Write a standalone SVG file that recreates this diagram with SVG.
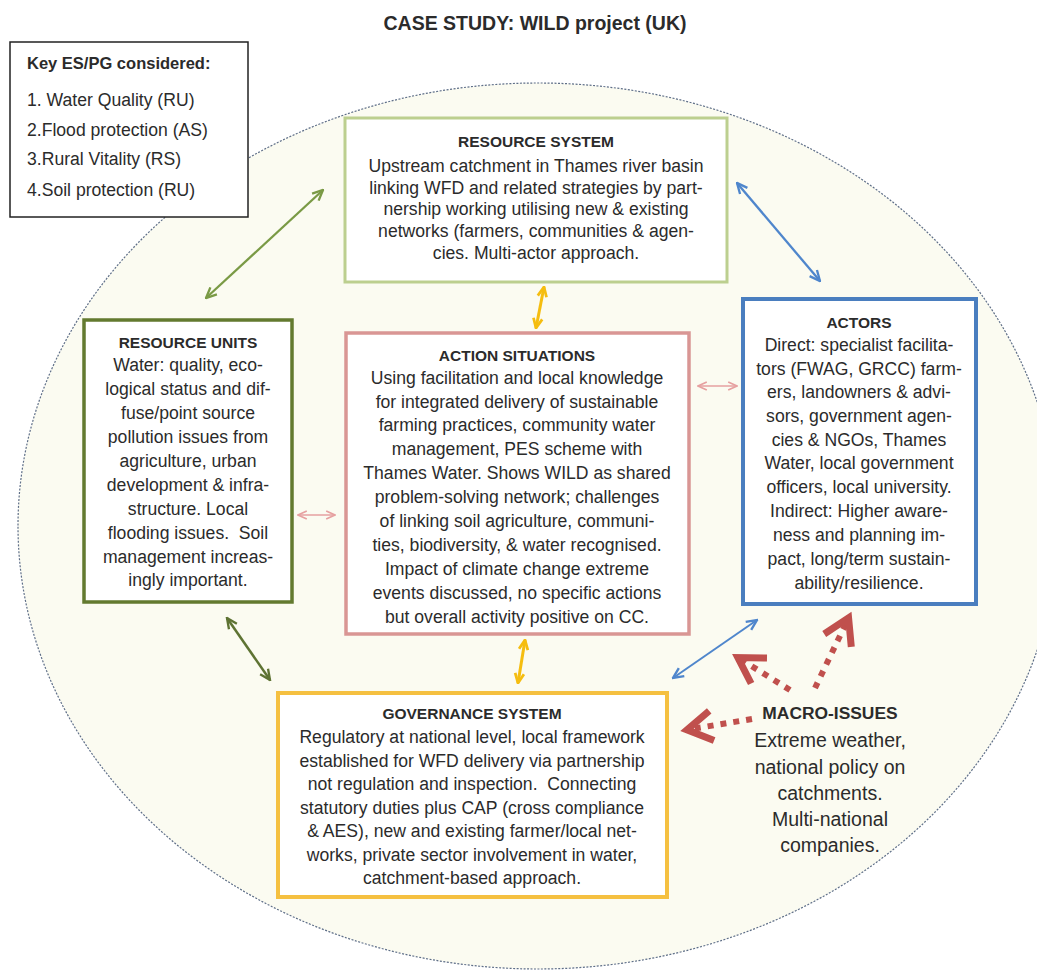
<svg xmlns="http://www.w3.org/2000/svg" width="1037" height="971" viewBox="0 0 1037 971">
<style>
text{font-family:"Liberation Sans",Arial,sans-serif;fill:#2b2b2b;text-anchor:middle}
.t{font-weight:bold;font-size:15.5px}
.b{font-size:17.6px}
.m{font-size:19.5px}
.box{fill:#ffffff}
.dot{fill:none;stroke:#c0504d;stroke-width:6;stroke-dasharray:6 7}
</style>
<defs>
<marker id="hg" viewBox="0 0 10 10" refX="9" refY="5" markerWidth="13" markerHeight="13" markerUnits="userSpaceOnUse" orient="auto-start-reverse"><path d="M1,1.3 L9,5 L1,8.7" fill="none" stroke="#7a9a45" stroke-width="1.8"/></marker>
<marker id="hd" viewBox="0 0 10 10" refX="9" refY="5" markerWidth="13" markerHeight="13" markerUnits="userSpaceOnUse" orient="auto-start-reverse"><path d="M1,1.3 L9,5 L1,8.7" fill="none" stroke="#5e7333" stroke-width="1.8"/></marker>
<marker id="hb" viewBox="0 0 10 10" refX="9" refY="5" markerWidth="13" markerHeight="13" markerUnits="userSpaceOnUse" orient="auto-start-reverse"><path d="M1,1.3 L9,5 L1,8.7" fill="none" stroke="#4f86cc" stroke-width="1.8"/></marker>
<marker id="hy" viewBox="0 0 10 10" refX="9" refY="5" markerWidth="12" markerHeight="12" markerUnits="userSpaceOnUse" orient="auto-start-reverse"><path d="M1,1.3 L9,5 L1,8.7" fill="none" stroke="#f5bd10" stroke-width="2.3"/></marker>
<marker id="hp" viewBox="0 0 10 10" refX="9" refY="5" markerWidth="11" markerHeight="11" markerUnits="userSpaceOnUse" orient="auto-start-reverse"><path d="M1,1.3 L9,5 L1,8.7" fill="none" stroke="#e6a0a0" stroke-width="1.5"/></marker>
<marker id="hr" viewBox="0 0 40 40" refX="33" refY="20" markerWidth="40" markerHeight="40" markerUnits="userSpaceOnUse" orient="auto"><path d="M7,5 L32,20 L7,35" fill="none" stroke="#c0504d" stroke-width="7" stroke-linejoin="miter"/></marker>
</defs>
<rect x="0" y="0" width="1037" height="971" fill="#ffffff"/>
<ellipse cx="538" cy="526" rx="520" ry="443" fill="#fbfbf1" stroke="#5f6f88" stroke-width="1.2" stroke-dasharray="2 1.5"/>
<text x="535" y="30" style="font-weight:bold;font-size:19.5px">CASE STUDY: WILD project (UK)</text>

<g id="key">
<rect x="10" y="42" width="238" height="175" class="box" stroke="#222" stroke-width="1.5"/>
<text x="27" y="69" style="text-anchor:start;font-weight:bold;font-size:16.5px">Key ES/PG considered:</text>
<text x="27" y="106" class="b" style="text-anchor:start">1. Water Quality (RU)</text>
<text x="27" y="136" class="b" style="text-anchor:start">2.Flood protection (AS)</text>
<text x="27" y="165" class="b" style="text-anchor:start">3.Rural Vitality (RS)</text>
<text x="27" y="196" class="b" style="text-anchor:start">4.Soil protection (RU)</text>
</g>

<g id="connectors">
<path d="M206,298 L323,190" stroke="#7a9a45" stroke-width="2.3" fill="none" marker-start="url(#hg)" marker-end="url(#hg)"/>
<path d="M737,183 L820,281" stroke="#4f86cc" stroke-width="2.3" fill="none" marker-start="url(#hb)" marker-end="url(#hb)"/>
<path d="M544,287 L536,328" stroke="#f5bd10" stroke-width="3" fill="none" marker-start="url(#hy)" marker-end="url(#hy)"/>
<path d="M525,640 L518,683" stroke="#f5bd10" stroke-width="3" fill="none" marker-start="url(#hy)" marker-end="url(#hy)"/>
<path d="M298,515 L335,515" stroke="#e6a0a0" stroke-width="1.5" fill="none" marker-start="url(#hp)" marker-end="url(#hp)"/>
<path d="M698,386 L737,386" stroke="#e6a0a0" stroke-width="1.5" fill="none" marker-start="url(#hp)" marker-end="url(#hp)"/>
<path d="M227,618 L270,680" stroke="#5e7333" stroke-width="2.5" fill="none" marker-start="url(#hd)" marker-end="url(#hd)"/>
<path d="M757,620 L673,678" stroke="#4f86cc" stroke-width="2" fill="none" marker-start="url(#hb)" marker-end="url(#hb)"/>
<path d="M752,719 L686,730" class="dot" marker-end="url(#hr)"/>
<path d="M790,690 L737,657" class="dot" marker-end="url(#hr)"/>
<path d="M815,688 L849,617" class="dot" marker-end="url(#hr)"/>
</g>

<g id="resource-system">
<rect x="345" y="118" width="382" height="164" class="box" stroke="#bccf8f" stroke-width="3"/>
<text x="536" y="147" class="t">RESOURCE SYSTEM</text>
<text x="536" y="172" class="b">Upstream catchment in Thames river basin</text>
<text x="536" y="194" class="b">linking WFD and related strategies by part-</text>
<text x="536" y="215" class="b">nership working utilising new &amp; existing</text>
<text x="536" y="237" class="b">networks (farmers, communities &amp; agen-</text>
<text x="536" y="259" class="b">cies. Multi-actor approach.</text>
</g>

<g id="resource-units">
<rect x="84" y="320" width="208" height="282" class="box" stroke="#637a2f" stroke-width="3.5"/>
<text x="188" y="348" class="t">RESOURCE UNITS</text>
<text x="188" y="371" class="b">Water: quality, eco-</text>
<text x="188" y="395" class="b">logical status and dif-</text>
<text x="188" y="419" class="b">fuse/point source</text>
<text x="188" y="443" class="b">pollution issues from</text>
<text x="188" y="467" class="b">agriculture, urban</text>
<text x="188" y="491" class="b">development &amp; infra-</text>
<text x="188" y="515" class="b">structure. Local</text>
<text x="188" y="539" class="b" xml:space="preserve">flooding issues.  Soil</text>
<text x="188" y="563" class="b">management increas-</text>
<text x="188" y="586" class="b">ingly important.</text>
</g>

<g id="action-situations">
<rect x="346" y="333" width="343" height="301" class="box" stroke="#d99694" stroke-width="3.5"/>
<text x="517" y="361" class="t">ACTION SITUATIONS</text>
<text x="517" y="384" class="b">Using facilitation and local knowledge</text>
<text x="517" y="408" class="b">for integrated delivery of sustainable</text>
<text x="517" y="431" class="b">farming practices, community water</text>
<text x="517" y="455" class="b">management, PES scheme with</text>
<text x="517" y="479" class="b">Thames Water. Shows WILD as shared</text>
<text x="517" y="503" class="b">problem-solving network; challenges</text>
<text x="517" y="527" class="b">of linking soil agriculture, communi-</text>
<text x="517" y="551" class="b">ties, biodiversity, &amp; water recognised.</text>
<text x="517" y="575" class="b">Impact of climate change extreme</text>
<text x="517" y="599" class="b">events discussed, no specific actions</text>
<text x="517" y="623" class="b">but overall activity positive on CC.</text>
</g>

<g id="actors">
<rect x="743" y="299" width="233" height="305" class="box" stroke="#4a7ebf" stroke-width="4"/>
<text x="859" y="328" class="t">ACTORS</text>
<text x="859" y="351" class="b">Direct: specialist facilita-</text>
<text x="859" y="375" class="b">tors (FWAG, GRCC) farm-</text>
<text x="859" y="398" class="b">ers, landowners &amp; advi-</text>
<text x="859" y="422" class="b">sors, government agen-</text>
<text x="859" y="446" class="b">cies &amp; NGOs, Thames</text>
<text x="859" y="469" class="b">Water, local government</text>
<text x="859" y="493" class="b">officers, local university.</text>
<text x="859" y="517" class="b">Indirect: Higher aware-</text>
<text x="859" y="541" class="b">ness and planning im-</text>
<text x="859" y="565" class="b">pact, long/term sustain-</text>
<text x="859" y="589" class="b">ability/resilience.</text>
</g>

<g id="governance-system">
<rect x="278" y="693" width="389" height="204" class="box" stroke="#f5c040" stroke-width="4"/>
<text x="472" y="719" class="t">GOVERNANCE SYSTEM</text>
<text x="472" y="743" class="b">Regulatory at national level, local framework</text>
<text x="472" y="767" class="b">established for WFD delivery via partnership</text>
<text x="472" y="790" class="b" xml:space="preserve">not regulation and inspection.  Connecting</text>
<text x="472" y="814" class="b">statutory duties plus CAP (cross compliance</text>
<text x="472" y="837" class="b">&amp; AES), new and existing farmer/local net-</text>
<text x="472" y="861" class="b">works, private sector involvement in water,</text>
<text x="472" y="884" class="b">catchment-based approach.</text>
</g>

<g id="macro-issues">
<text x="830" y="719" style="font-weight:bold;font-size:17.4px">MACRO-ISSUES</text>
<text x="830" y="747" class="m">Extreme weather,</text>
<text x="830" y="774" class="m">national policy on</text>
<text x="830" y="800" class="m">catchments.</text>
<text x="830" y="826" class="m">Multi-national</text>
<text x="830" y="852" class="m">companies.</text>
</g>
</svg>
